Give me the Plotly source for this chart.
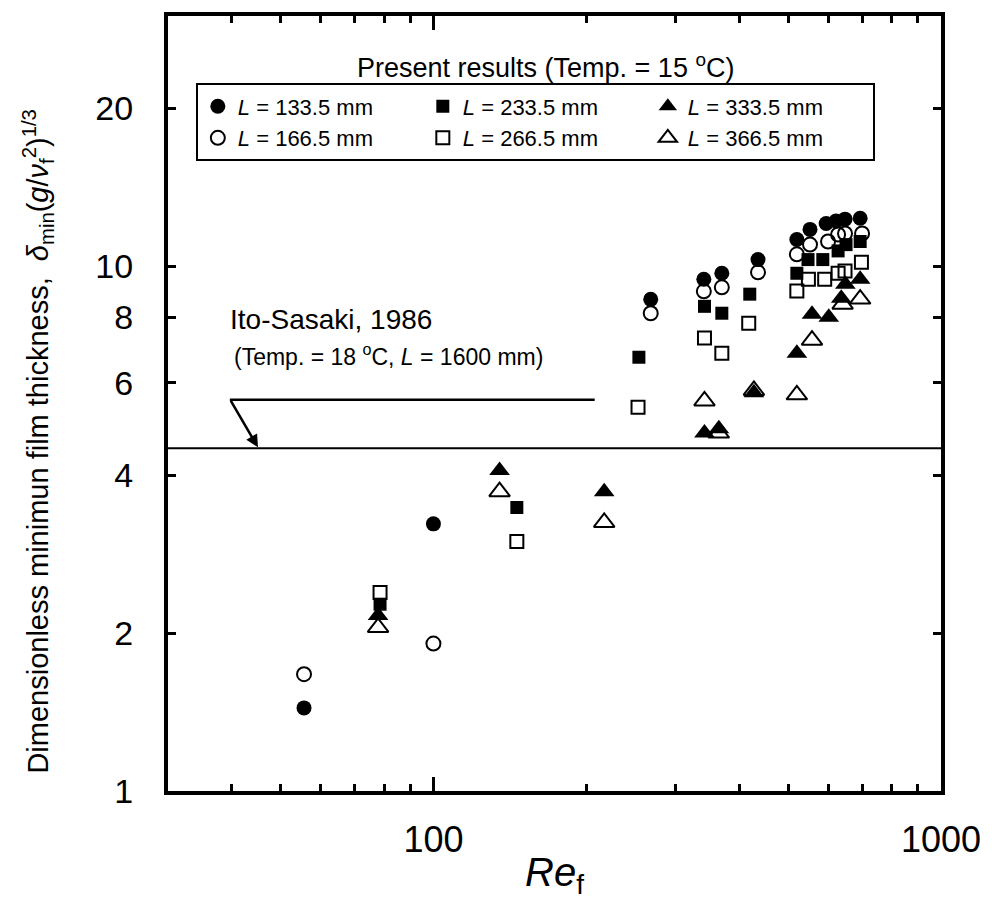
import plotly.graph_objects as go

# ---- data (Re_f, dimensionless minimum film thickness) ----
re_133 = [55.6, 100, 268, 341, 370, 436, 520, 552, 594, 621, 647, 693]
d_133 = [1.44, 3.23, 8.65, 9.45, 9.7, 10.3, 11.25, 11.76, 12.07, 12.2, 12.3, 12.35]

re_166 = [55.6, 100, 268, 341, 370, 436, 520, 552, 599, 627, 647, 699]
d_166 = [1.67, 1.91, 8.14, 8.96, 9.12, 9.74, 10.54, 11.0, 11.15, 11.5, 11.55, 11.55]

re_233 = [78.5, 146, 254, 342, 370, 420, 520, 547, 585, 627, 650, 693]
d_233 = [2.27, 3.47, 6.71, 8.39, 8.14, 8.85, 9.7, 10.3, 10.3, 10.7, 11.0, 11.15]

re_266 = [78.5, 146, 253, 342, 370, 418, 520, 548, 590, 627, 647, 697]
d_266 = [2.39, 2.99, 5.39, 7.3, 6.83, 7.79, 8.97, 9.45, 9.45, 9.7, 9.8, 10.18]

re_333 = [77.8, 135, 217, 342, 365, 428, 520, 557, 601, 636, 648, 693]
d_333 = [2.16, 4.08, 3.72, 4.81, 4.9, 5.74, 6.83, 8.1, 8.0, 8.69, 9.24, 9.45]

re_366 = [77.8, 135, 217, 342, 365, 428, 520, 557, 640, 693]
d_366 = [2.05, 3.72, 3.25, 5.54, 4.81, 5.8, 5.69, 7.23, 8.47, 8.66]

ito_sasaki_value = 4.5
x_range = [30, 1000]

legend_names = ["<i>L</i> = 133.5 mm", "<i>L</i> = 233.5 mm", "<i>L</i> = 333.5 mm",
                "<i>L</i> = 166.5 mm", "<i>L</i> = 266.5 mm", "<i>L</i> = 366.5 mm"]

y_tickvals = [1, 2, 4, 6, 8, 10, 20]
x_tickvals = [100, 1000]
x_minor = [40, 50, 60, 70, 80, 90, 200, 300, 400, 500, 600, 700, 800, 900]

FONT = "Liberation Sans, Arial, sans-serif"

fig = go.Figure()

# Ito-Sasaki line
fig.add_trace(go.Scatter(x=x_range, y=[ito_sasaki_value, ito_sasaki_value], mode="lines",
                         line=dict(color="black", width=2), showlegend=False, hoverinfo="skip"))

series = [
    (re_133, d_133, legend_names[0], "circle", 15),
    (re_233, d_233, legend_names[1], "square", 13),
    (re_333, d_333, legend_names[2], "triangle-up", 18),
    (re_166, d_166, legend_names[3], "circle-open", 14),
    (re_266, d_266, legend_names[4], "square-open", 13),
    (re_366, d_366, legend_names[5], "triangle-up-open", 18),
]
for xs, ys, name, sym, size in series:
    fig.add_trace(go.Scatter(
        x=xs, y=ys, mode="markers", name=name,
        marker=dict(symbol=sym, size=size, color="black",
                    line=dict(color="black", width=2 if "open" in sym else 0)),
    ))

axis_common = dict(
    showline=True, linecolor="black", linewidth=4, mirror="ticks",
    ticks="inside", tickcolor="black", tickwidth=3, showgrid=False, zeroline=False,
)

fig.update_xaxes(type="log", range=[1.4771, 3.0], tickvals=x_tickvals,
                 ticktext=["100", "1000"], ticklen=14,
                 tickfont=dict(family=FONT, size=36, color="black"),
                 ticklabelstandoff=14,
                 minor=dict(tickvals=x_minor, ticks="inside", ticklen=7,
                            tickwidth=3, tickcolor="black", showgrid=False),
                 **axis_common)
fig.update_yaxes(type="log", range=[0, 1.4771], tickvals=y_tickvals,
                 ticktext=[str(v) for v in y_tickvals], ticklen=8,
                 tickfont=dict(family=FONT, size=34, color="black"),
                 ticklabelstandoff=24,
                 **axis_common)

annotations = [
    dict(text="Present results (Temp. = 15 <sup>o</sup>C)", xref="paper", yref="paper",
         x=0.488, y=0.935, yanchor="middle", showarrow=False,
         font=dict(family=FONT, size=27, color="black")),
    dict(text="Ito-Sasaki, 1986", xref="paper", yref="paper", x=0.078, y=0.608,
         xanchor="left", yanchor="middle", showarrow=False,
         font=dict(family=FONT, size=28, color="black")),
    dict(text="(Temp. = 18 <sup>o</sup>C, <i>L</i> = 1600 mm)", xref="paper", yref="paper",
         x=0.083, y=0.562, xanchor="left", yanchor="middle", showarrow=False,
         font=dict(family=FONT, size=23, color="black")),
    dict(text="", xref="paper", yref="paper", x=0.1164, y=0.4434,
         ax=-28, ay=-48, showarrow=True, arrowhead=2, arrowsize=1, arrowwidth=2.5,
         arrowcolor="black"),
    dict(text="Dimensionless minimun film thickness,  <i>δ</i><sub>min</sub>"
              "(<i>g</i>/<i>ν</i><sub>f</sub><sup>2</sup>)<sup>1/3</sup>",
         xref="paper", yref="paper", x=-0.168, y=0.451, textangle=-90,
         xanchor="center", yanchor="middle",
         showarrow=False, font=dict(family=FONT, size=29, color="black")),
    dict(text="<i>Re</i><sub>f</sub>", xref="paper", yref="paper", x=0.5, y=-0.108,
         yanchor="middle", showarrow=False, font=dict(family=FONT, size=40, color="black")),
]

shapes = [
    dict(type="line", xref="paper", yref="paper", x0=0.080, x1=0.552, y0=0.505, y1=0.505,
         line=dict(color="black", width=2.5)),
]

fig.update_layout(
    width=995, height=915,
    margin=dict(l=168, r=54, t=13, b=124),
    paper_bgcolor="white", plot_bgcolor="white",
    annotations=annotations, shapes=shapes,
    legend=dict(orientation="h", x=0.036, y=0.913, xanchor="left", yanchor="top",
                bordercolor="black", borderwidth=2, bgcolor="white",
                entrywidth=180, entrywidthmode="pixels", itemwidth=30,
                font=dict(family=FONT, size=22, color="black"),
                tracegroupgap=0, traceorder="normal"),
    showlegend=True,
)

fig.write_html("out.html")
